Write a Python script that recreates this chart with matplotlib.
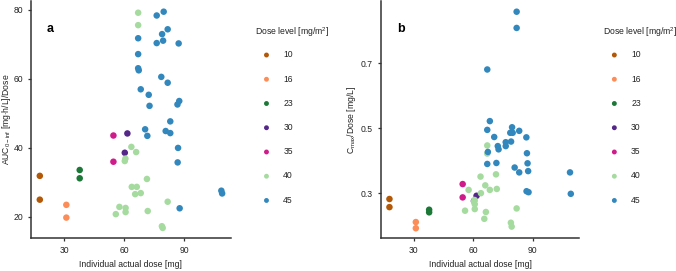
# Dose-normalised exposure vs individual actual dose, two panels

import numpy as np
import matplotlib
matplotlib.use('Agg')
import matplotlib.pyplot as plt

plt.rcParams['font.family'] = ['Liberation Sans', 'DejaVu Sans']
plt.rcParams['mathtext.fontset'] = 'custom'
plt.rcParams['mathtext.rm'] = 'Liberation Sans'
plt.rcParams['mathtext.it'] = 'Liberation Sans'

# dose levels [mg/m2] and their colours
levels = ['10', '16', '23', '30', '35', '40', '45']
colors = ['#b35806', '#fc8d59', '#1b7837', '#542788', '#d01c8b', '#a6dba0', '#3288bd']

# individual actual dose [mg] per dose level
dose10 = [17.7, 17.7]
dose16 = [31.0, 31.0]
dose23 = [37.7, 37.7]
dose30 = [61.6, 60.3]
dose35 = [54.6, 54.6]
dose40 = [67.0, 67.0, 63.6, 66.0, 60.6, 60.3, 71.4, 63.8, 66.3, 65.5,
          68.3, 81.8, 57.6, 60.7, 60.7, 55.8, 71.8, 78.9, 79.3]
dose45 = [67.0, 67.0, 67.0, 67.3, 68.3, 70.5, 71.6, 72.3, 72.7, 76.3,
          76.3, 78.6, 79.0, 79.5, 79.8, 80.8, 81.8, 81.8, 83.1, 83.1,
          86.7, 86.8, 87.0, 87.3, 87.6, 87.8, 108.7, 109.1]

# AUC0-inf / dose
auc10 = [31.9, 25.0]
auc16 = [23.5, 19.8]
auc23 = [33.6, 31.2]
auc30 = [44.2, 38.6]
auc35 = [43.6, 36.0]
auc40 = [79.2, 75.6, 40.3, 38.8, 36.9, 36.2, 31.0, 28.7, 28.7, 26.6,
         26.9, 24.4, 22.9, 22.6, 21.4, 20.8, 21.7, 17.3, 16.8]
auc45 = [71.8, 67.2, 63.1, 62.5, 57.0, 45.4, 43.5, 55.4, 52.2, 78.4,
         70.4, 60.6, 73.0, 71.1, 79.5, 44.9, 74.4, 58.9, 47.7, 44.3,
         52.6, 35.8, 40.0, 70.3, 53.6, 22.5, 27.6, 26.8]

# Cmax / dose
cmax10 = [0.282, 0.257]
cmax16 = [0.211, 0.192]
cmax23 = [0.249, 0.241]
cmax30 = [0.292, 0.276]
cmax35 = [0.328, 0.287]
cmax40 = [0.447, 0.422, 0.351, 0.324, 0.279, 0.274, 0.358, 0.300, 0.242, 0.221,
          0.310, 0.253, 0.310, 0.266, 0.251, 0.246, 0.313, 0.209, 0.197]
cmax45 = [0.681, 0.495, 0.390, 0.427, 0.522, 0.473, 0.393, 0.445, 0.435, 0.445,
          0.457, 0.486, 0.459, 0.503, 0.486, 0.379, 0.859, 0.809, 0.492, 0.364,
          0.472, 0.306, 0.423, 0.392, 0.368, 0.303, 0.364, 0.298]

doses = [dose10, dose16, dose23, dose30, dose35, dose40, dose45]
aucs = [auc10, auc16, auc23, auc30, auc35, auc40, auc45]
cmaxs = [cmax10, cmax16, cmax23, cmax30, cmax35, cmax40, cmax45]

txt = '#222222'
fs = 6.2
fig = plt.figure(figsize=(6.76, 2.71), dpi=100)
ax_a = fig.add_axes([0.0459, 0.1207, 0.2954, 0.8756])
ax_b = fig.add_axes([0.5632, 0.1207, 0.2938, 0.8756])

panels = [(ax_a, aucs, 'a', r'AUC$_{\mathrm{0-inf}}$ [mg$\cdot$h/L]/Dose', 0.377, -0.088, 0.08),
          (ax_b, cmaxs, 'b', r'C$_{\mathrm{max}}$/Dose [mg/L]', 0.8916, -0.112, 0.085)]

for ax, ys, lab, ylab, legx, ylx, labx in panels:
    for d, y, c, l in zip(doses, ys, colors, levels):
        ax.scatter(d, y, s=22, color=c, edgecolor='none', label=l, zorder=3)
    for s in ['top', 'right']:
        ax.spines[s].set_visible(False)
    for s in ['left', 'bottom']:
        ax.spines[s].set_color('#333333')
        ax.spines[s].set_linewidth(1.1)
    ax.tick_params(length=2.5, width=0.9, color='#333333', labelsize=fs,
                   labelcolor=txt, pad=3)
    ax.set_xlim(13.3, 113.4)
    ax.set_xticks([30, 60, 90])
    ax.set_xlabel('Individual actual dose [mg]', fontsize=fs, color=txt, labelpad=4)
    ax.set_ylabel(ylab, fontsize=fs, color=txt)
    ax.yaxis.set_label_coords(ylx, 0.5)
    ax.text(labx, 0.869, lab, transform=ax.transAxes, fontsize=9,
            fontweight='bold', color='black')
    leg = ax.legend(loc='upper left', bbox_to_anchor=(legx, 0.905),
                    bbox_transform=fig.transFigure, frameon=False,
                    title='Dose level [mg/m$^{2}$]', title_fontsize=fs,
                    fontsize=fs, markerscale=0.75, handletextpad=0.6,
                    labelspacing=1.77, handlelength=2.7, borderaxespad=0,
                    borderpad=0)
    leg._legend_box.align = 'left'
    leg._legend_box.sep = 7.8
    for t in leg.get_texts():
        t.set_color(txt)
    leg.get_title().set_color(txt)

ax_a.set_ylim(13.8, 82.6)
ax_a.set_yticks([20, 40, 60, 80])
ax_b.set_ylim(0.161, 0.892)
ax_b.set_yticks([0.3, 0.5, 0.7])

fig.savefig('out.png', dpi=100)
